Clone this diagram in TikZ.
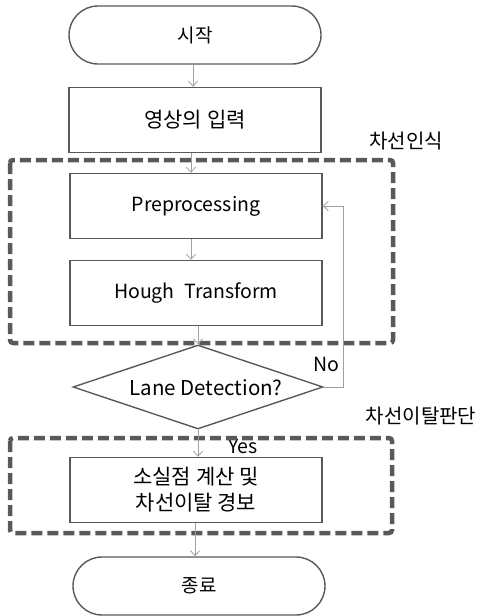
\documentclass[tikz,border=0pt]{standalone}
\usepackage{fontspec}
\setmainfont{Noto Sans CJK KR}
\usetikzlibrary{arrows.meta,shapes.geometric}
\definecolor{boxc}{HTML}{595959}
\definecolor{arrc}{HTML}{A0A0A0}
\begin{document}
\begin{tikzpicture}[x=1pt,y=-1pt,
  every node/.style={font=\fontsize{19}{22}\selectfont, text=black},
  kor/.style={font=\fontsize{21}{26}\selectfont},
  lat/.style={font=\fontsize{19.5}{22}\selectfont},
  term/.style={draw=boxc, line width=1.4pt, rounded corners=29pt, minimum width=252pt, minimum height=58pt, inner sep=0pt},
  proc/.style={draw=boxc, line width=1.4pt, minimum width=252pt, minimum height=65pt, inner sep=0pt, align=center},
  dec/.style={draw=boxc, line width=1.4pt, diamond, aspect=2.98, minimum width=250pt, minimum height=84pt, inner sep=0pt},
  group/.style={draw=boxc, line width=4.5pt, dash pattern=on 11pt off 5pt, rounded corners=3pt},
  flow/.style={draw=arrc, line width=0.8pt, -{Straight Barb[length=5pt,width=9pt]}},
  lbl/.style={font=\fontsize{20}{22}\selectfont}
]
\useasboundingbox (0,0) rectangle (484,616);
\node[term] (start) at (195,35) {시작};
\node[proc, kor] (input) at (195,120) {영상의 입력};
\node[proc, lat] (pre) at (196,206) {Preprocessing};
\node[proc, lat] (hough) at (196,293) {Hough\; Transform};
\node[dec] (det) at (198,387) {};
\node[lat, font=\fontsize{20.5}{22}\selectfont] at (206,388) {Lane Detection?};
\node[lat] at (243,446) (yes) {Yes};
\node[proc, kor] (warn) at (196,490) {소실점 계산 및\\차선이탈 경보};
\node[term] (end) at (199,586) {종료};
\node[lbl] (g1lbl) at (406,141) {차선인식};
\node[lbl] (g2lbl) at (421,416) {차선이탈판단};
\node[lat] (no) at (326,364) {No};

\draw[group] (10,160) rectangle (393,343);
\draw[group] (10,438) rectangle (392,533);

\draw[flow] (start.south -| 193,0) -- (input.north -| 193,0);
\draw[flow] (input.south -| 191,0) -- (pre.north -| 191,0);
\draw[flow] (pre.south -| 191,0) -- (hough.north -| 191,0);
\draw[flow] (hough.south -| 198,0) -- (det.north);
\draw[flow] (det.south) -- (warn.north -| 198,0);
\draw[flow] (warn.south -| 195,0) -- (end.north -| 195,0);
\draw[flow] (det.east) -- ++(20,0) |- (pre.east);
\end{tikzpicture}
\end{document}
